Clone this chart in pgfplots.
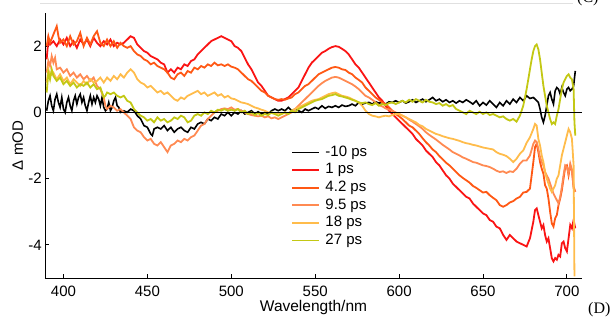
\documentclass[border=0pt]{standalone}
\usepackage{pgfplots}
\pgfplotsset{compat=1.18}
\usepackage{fontspec}
\setmainfont{Liberation Sans}
\newfontfamily\seriffont{Liberation Serif}
\definecolor{cA}{RGB}{250,20,20}
\definecolor{cB}{RGB}{255,88,20}
\definecolor{cC}{RGB}{255,138,82}
\definecolor{cD}{RGB}{255,188,75}
\definecolor{cE}{RGB}{195,200,20}
\begin{document}
\begin{tikzpicture}
\useasboundingbox (0,0) rectangle (614pt,320pt);
\draw[black!12, line width=0.8pt] (40pt,317pt) -- (573pt,317pt);
\node[font=\seriffont\fontsize{16}{18}\selectfont, anchor=base west, inner sep=0pt] at (577pt,317.5pt) {(C)};
\node[font=\seriffont\fontsize{16}{18}\selectfont, anchor=base west, inner sep=0pt] at (588pt,6pt) {(D)};
\begin{axis}[
  at={(45pt,42pt)}, anchor=south west,
  scale only axis, width=537pt, height=265pt,
  xmin=389, xmax=709, ymin=-5, ymax=3,
  axis x line*=bottom, axis y line*=left,
  axis line style={black, line width=0.8pt, -},
  xtick={400,450,...,700}, ytick={-4,-2,0,2},
  tick align=inside, major tick length=4pt,
  tick style={black, line width=0.8pt},
  /pgf/number format/assume math mode=true,
  ticklabel style={font=\fontsize{15}{18}\selectfont},
  xticklabel style={anchor=base, yshift=-19pt, inner sep=0pt},
  yticklabel style={anchor=east, inner sep=0pt, xshift=-3pt},
  every axis x label/.style={at={(axis description cs:0.5,0)}, anchor=base, yshift=-33.5pt, inner sep=0pt, font=\fontsize{15.5}{18}\selectfont},
  every axis y label/.style={at={(axis description cs:-0.041,0.5)}, anchor=base, rotate=90, inner sep=0pt, font=\fontsize{15}{18}\selectfont},
  xlabel={Wavelength/nm}, ylabel={Δ mOD},
  legend style={at={(axis cs:533.8,-0.89)}, anchor=north west, draw=none, fill=none,
    font=\fontsize{15}{17}\selectfont, row sep=0.8pt, column sep=4pt,
    nodes={inner sep=1.5pt, text height=10.8pt, text depth=3pt}},
  legend cell align=left,
  legend image code/.code={\draw[#1, line width=1.8pt] (0pt,0pt) -- (27pt,0pt);},
]
\addplot[black, line width=1.6pt] coordinates {(390,0.05) (391,0.35) (392,0.5) (393,0.2) (394,0.05) (395,0.4) (396,0.55) (397,0.3) (398,0.15) (399,0.45) (400,0.1) (401,0.0) (402,0.3) (403,0.45) (404,0.2) (405,0.05) (406,0.35) (407,0.5) (408,0.25) (409,0.45) (410,0.55) (411,0.3) (412,0.45) (413,0.2) (414,0.05) (415,0.3) (416,0.5) (417,0.25) (418,0.45) (419,0.3) (420,0.5) (421,0.4) (422,0.2) (423,0.45) (424,0.15) (425,0.05) (426,0.1) (427,0.3) (428,0.05) (429,0.15) (430,0.35) (431,0.45) (432,0.2) (433,0.15) (434,0.0) (436,0.05) (438,0.0) (440,0.1) (442,0.05) (444,-0.1) (446,-0.2) (448,-0.4) (450,-0.45) (451,-0.55) (452,-0.65) (453,-0.7) (454,-0.5) (456,-0.45) (458,-0.5) (460,-0.4) (462,-0.55) (464,-0.45) (466,-0.6) (468,-0.5) (470,-0.45) (472,-0.55) (474,-0.6) (476,-0.45) (478,-0.5) (480,-0.35) (482,-0.3) (484,-0.35) (486,-0.2) (488,-0.25) (490,-0.15) (492,-0.2) (494,-0.05) (496,-0.1) (498,0.0) (500,-0.1) (502,0.0) (504,-0.05) (506,0.05) (508,-0.05) (510,0.0) (512,0.05) (514,-0.05) (516,0.02) (518,-0.05) (520,0.0) (522,-0.05) (524,0.05) (526,0.1) (528,0.05) (530,0.1) (532,0.05) (534,0.15) (536,0.05) (538,0.1) (540,0.05) (542,0.0) (544,0.1) (546,0.05) (548,0.1) (550,0.15) (552,0.1) (554,0.2) (556,0.12) (558,0.18) (560,0.15) (562,0.2) (564,0.15) (566,0.22) (568,0.18) (570,0.2) (572,0.25) (574,0.2) (576,0.3) (578,0.25) (580,0.28) (582,0.3) (584,0.25) (586,0.32) (588,0.28) (590,0.3) (592,0.25) (594,0.32) (596,0.3) (598,0.35) (600,0.3) (602,0.35) (604,0.28) (606,0.32) (608,0.38) (610,0.3) (612,0.35) (614,0.4) (616,0.32) (618,0.38) (620,0.45) (622,0.35) (624,0.4) (626,0.32) (628,0.38) (630,0.3) (632,0.35) (634,0.28) (636,0.35) (638,0.3) (640,0.38) (642,0.32) (644,0.25) (646,0.35) (648,0.2) (650,0.3) (652,0.22) (654,0.35) (656,0.25) (658,0.15) (660,0.3) (662,0.2) (664,0.35) (666,0.25) (668,0.4) (670,0.3) (672,0.45) (674,0.35) (676,0.5) (678,0.42) (680,0.45) (682,0.35) (683,0.3) (684,0.1) (685,-0.15) (686,-0.3) (687,-0.1) (688,0.2) (689,0.5) (690,0.6) (691,0.4) (692,0.25) (693,0.65) (694,0.75) (695,0.7) (696,0.55) (697,0.75) (698,0.6) (699,0.5) (700,0.7) (701,0.75) (702,0.65) (703,0.7) (704,0.8) (705,1.25)};
\addlegendentry{-10 ps}
\addplot[cA, line width=1.8pt] coordinates {(390,1.6) (391,2.2) (392,2.05) (394,2.15) (396,2.0) (398,2.2) (400,2.05) (402,2.25) (404,2.0) (406,2.15) (408,1.95) (410,2.2) (412,2.05) (414,2.2) (416,2.0) (418,2.25) (420,2.1) (422,2.0) (424,2.15) (426,2.05) (428,2.2) (430,2.0) (432,2.1) (434,2.05) (436,2.1) (438,2.2) (440,2.3) (442,2.25) (444,2.05) (446,1.95) (448,1.85) (450,1.8) (452,1.7) (454,1.65) (456,1.6) (458,1.5) (460,1.45) (462,1.2) (464,1.3) (466,1.2) (468,1.35) (470,1.3) (472,1.45) (474,1.4) (476,1.55) (478,1.6) (480,1.75) (482,1.85) (484,1.95) (486,2.05) (488,2.15) (490,2.2) (492,2.25) (494,2.3) (496,2.25) (498,2.2) (500,2.15) (502,2.0) (504,1.95) (506,1.85) (508,1.65) (510,1.45) (512,1.3) (514,1.1) (516,0.9) (518,0.8) (520,0.65) (522,0.5) (524,0.45) (526,0.4) (528,0.35) (530,0.35) (532,0.4) (534,0.45) (536,0.55) (538,0.65) (540,0.75) (542,0.95) (544,1.15) (546,1.35) (548,1.5) (550,1.6) (552,1.7) (554,1.8) (556,1.85) (558,1.92) (560,1.97) (562,2.0) (564,1.98) (566,1.92) (568,1.85) (570,1.75) (572,1.6) (574,1.45) (576,1.35) (578,1.2) (580,1.05) (582,0.9) (584,0.75) (586,0.6) (588,0.45) (590,0.35) (592,0.2) (594,0.05) (596,-0.05) (598,-0.15) (600,-0.25) (602,-0.35) (604,-0.45) (606,-0.55) (608,-0.65) (610,-0.8) (612,-0.9) (614,-1.0) (616,-1.15) (618,-1.25) (620,-1.35) (622,-1.5) (624,-1.6) (626,-1.75) (628,-1.9) (630,-2.0) (632,-2.15) (634,-2.25) (636,-2.35) (638,-2.45) (640,-2.55) (642,-2.6) (644,-2.75) (646,-2.85) (648,-2.95) (650,-3.05) (652,-3.1) (654,-3.25) (656,-3.3) (658,-3.45) (660,-3.5) (662,-3.7) (664,-3.85) (666,-3.7) (668,-3.8) (670,-3.9) (672,-3.95) (674,-4.0) (676,-4.05) (678,-3.8) (680,-3.3) (681,-2.95) (682,-2.9) (683,-3.1) (684,-3.3) (685,-3.5) (686,-3.4) (687,-3.7) (688,-3.9) (689,-3.8) (690,-4.1) (691,-4.4) (692,-4.5) (693,-4.4) (694,-4.45) (695,-4.3) (696,-4.35) (697,-3.95) (698,-3.9) (699,-4.1) (700,-4.2) (701,-3.8) (702,-3.4) (703,-3.5) (704,-3.25) (705,-3.5)};
\addlegendentry{1 ps}
\addplot[cB, line width=1.8pt] coordinates {(390,2.0) (391,2.3) (392,2.1) (394,2.35) (396,2.6) (397,2.3) (398,2.1) (400,2.2) (402,2.0) (404,2.3) (406,2.05) (408,2.15) (410,2.4) (412,2.0) (414,2.25) (416,2.05) (418,2.3) (420,2.45) (422,2.1) (424,2.0) (426,2.2) (428,2.0) (430,2.15) (432,1.95) (434,2.1) (436,2.0) (438,1.95) (440,2.0) (442,1.85) (444,1.75) (446,1.7) (448,1.6) (450,1.55) (452,1.45) (454,1.5) (456,1.4) (458,1.35) (460,1.3) (462,1.2) (464,1.05) (466,1.0) (468,1.15) (470,1.2) (472,1.1) (474,1.25) (476,1.2) (478,1.35) (480,1.3) (482,1.4) (484,1.35) (486,1.45) (488,1.4) (490,1.5) (492,1.42) (494,1.45) (496,1.4) (498,1.45) (500,1.38) (502,1.35) (504,1.3) (506,1.2) (508,1.1) (510,1.0) (512,0.95) (514,0.85) (516,0.75) (518,0.65) (520,0.6) (522,0.5) (524,0.45) (526,0.4) (528,0.38) (530,0.4) (532,0.38) (534,0.42) (536,0.45) (538,0.55) (540,0.6) (542,0.7) (544,0.8) (546,0.85) (548,0.95) (550,1.05) (552,1.15) (554,1.2) (556,1.25) (558,1.3) (560,1.35) (562,1.37) (564,1.35) (566,1.3) (568,1.28) (570,1.2) (572,1.15) (574,1.05) (576,0.98) (578,0.9) (580,0.75) (582,0.65) (584,0.55) (586,0.45) (588,0.38) (590,0.3) (592,0.25) (594,0.15) (596,0.05) (598,-0.05) (600,-0.12) (602,-0.2) (604,-0.3) (606,-0.4) (608,-0.45) (610,-0.55) (612,-0.65) (614,-0.78) (616,-0.9) (618,-1.0) (620,-1.12) (622,-1.2) (624,-1.32) (626,-1.42) (628,-1.52) (630,-1.6) (632,-1.7) (634,-1.8) (636,-1.9) (638,-1.98) (640,-2.05) (642,-2.12) (644,-2.22) (646,-2.28) (648,-2.35) (650,-2.42) (652,-2.4) (654,-2.5) (656,-2.58) (658,-2.65) (660,-2.8) (662,-2.85) (664,-2.8) (666,-2.72) (668,-2.68) (670,-2.6) (672,-2.55) (674,-2.42) (676,-2.4) (678,-2.3) (680,-1.5) (681,-1.05) (682,-0.95) (683,-1.2) (684,-1.5) (685,-1.7) (686,-1.85) (687,-2.2) (688,-2.3) (689,-2.6) (690,-3.0) (691,-3.35) (692,-3.45) (693,-3.2) (694,-3.1) (695,-2.8) (696,-2.6) (697,-2.35) (698,-2.0) (699,-1.65) (700,-1.6) (701,-1.9) (702,-1.6) (703,-1.75) (704,-2.25) (705,-2.4)};
\addlegendentry{4.2 ps}
\addplot[cC, line width=1.8pt] coordinates {(390,1.2) (391,1.55) (392,1.4) (393,1.7) (394,1.5) (395,1.65) (396,1.3) (398,1.35) (400,1.2) (402,1.3) (404,1.1) (406,1.2) (408,1.05) (410,1.15) (412,1.0) (414,1.1) (416,0.95) (418,1.05) (420,0.8) (422,0.7) (424,0.45) (425,0.2) (426,0.1) (428,0.2) (430,0.15) (432,0.05) (434,0.1) (436,0.0) (438,-0.1) (440,-0.2) (442,-0.45) (444,-0.55) (446,-0.6) (448,-0.75) (450,-0.85) (452,-0.8) (454,-0.95) (456,-1.0) (458,-0.9) (460,-1.05) (462,-1.2) (464,-1.0) (466,-0.95) (468,-0.85) (470,-0.9) (472,-0.8) (474,-0.85) (476,-0.75) (478,-0.7) (480,-0.55) (482,-0.4) (484,-0.35) (486,-0.2) (488,-0.1) (490,0.0) (492,0.05) (494,0.1) (496,0.12) (498,0.1) (500,0.15) (502,0.08) (504,0.1) (506,0.05) (508,0.0) (510,-0.05) (512,-0.08) (514,-0.1) (516,-0.12) (518,-0.1) (520,-0.15) (522,-0.12) (524,-0.18) (526,-0.15) (528,-0.2) (530,-0.15) (532,-0.1) (534,-0.05) (536,0.0) (538,0.1) (540,0.2) (542,0.3) (544,0.4) (546,0.5) (548,0.6) (550,0.7) (552,0.8) (554,0.88) (556,0.95) (558,1.0) (560,1.05) (562,1.07) (564,1.05) (566,1.0) (568,0.95) (570,0.9) (572,0.85) (574,0.78) (576,0.7) (578,0.6) (580,0.5) (582,0.45) (584,0.38) (586,0.3) (588,0.22) (590,0.18) (592,0.12) (594,0.08) (596,0.05) (598,0.0) (600,-0.05) (602,-0.1) (604,-0.15) (606,-0.22) (608,-0.28) (610,-0.35) (612,-0.42) (614,-0.5) (616,-0.6) (618,-0.68) (620,-0.75) (622,-0.82) (624,-0.9) (626,-0.98) (628,-1.05) (630,-1.12) (632,-1.2) (634,-1.25) (636,-1.3) (638,-1.36) (640,-1.4) (642,-1.45) (644,-1.5) (646,-1.52) (648,-1.56) (650,-1.6) (652,-1.62) (654,-1.65) (656,-1.7) (658,-1.76) (660,-1.8) (662,-1.78) (664,-1.83) (666,-1.78) (668,-1.8) (670,-1.7) (672,-1.55) (674,-1.45) (676,-1.45) (678,-1.3) (680,-0.95) (681,-0.85) (682,-0.9) (683,-1.1) (684,-1.35) (685,-1.5) (686,-1.6) (687,-1.8) (688,-1.9) (689,-2.0) (690,-2.15) (691,-2.3) (692,-2.45) (693,-2.55) (694,-2.65) (695,-2.75) (696,-2.55) (697,-2.25) (698,-1.9) (699,-1.6) (700,-1.65) (701,-1.85) (702,-1.55) (703,-1.75) (704,-2.3) (705,-2.4)};
\addlegendentry{9.5 ps}
\addplot[cD, line width=1.8pt] coordinates {(390,0.9) (391,1.3) (392,1.1) (394,1.2) (396,1.0) (398,1.15) (400,0.95) (402,1.05) (404,0.85) (406,1.0) (408,0.9) (410,0.8) (412,0.95) (414,0.85) (416,1.0) (418,0.9) (420,0.95) (422,1.05) (424,0.9) (426,1.05) (428,0.95) (430,1.1) (432,1.0) (434,1.15) (436,1.05) (438,1.2) (440,1.3) (442,1.2) (444,1.0) (446,0.9) (448,0.85) (450,0.75) (452,0.8) (454,0.7) (456,0.6) (458,0.65) (460,0.55) (462,0.6) (464,0.5) (466,0.4) (468,0.35) (470,0.45) (472,0.4) (474,0.5) (476,0.55) (478,0.6) (480,0.65) (482,0.55) (484,0.6) (486,0.5) (488,0.55) (490,0.6) (492,0.5) (494,0.55) (496,0.45) (498,0.5) (500,0.42) (502,0.4) (504,0.35) (506,0.3) (508,0.28) (510,0.25) (512,0.2) (514,0.15) (516,0.12) (518,0.08) (520,0.05) (522,0.0) (524,-0.02) (526,-0.05) (528,-0.03) (530,-0.05) (532,0.0) (534,-0.03) (536,0.05) (538,0.1) (540,0.15) (542,0.2) (544,0.25) (546,0.3) (548,0.35) (550,0.38) (552,0.4) (554,0.45) (556,0.5) (558,0.55) (560,0.58) (562,0.6) (564,0.55) (566,0.5) (568,0.48) (570,0.45) (572,0.4) (574,0.35) (576,0.3) (578,0.2) (580,0.05) (582,-0.05) (584,-0.1) (586,-0.12) (588,-0.15) (590,-0.12) (592,-0.1) (594,-0.12) (596,-0.08) (598,-0.05) (600,-0.05) (602,-0.1) (604,-0.15) (606,-0.2) (608,-0.25) (610,-0.3) (612,-0.38) (614,-0.42) (616,-0.5) (618,-0.55) (620,-0.6) (622,-0.65) (624,-0.68) (626,-0.72) (628,-0.75) (630,-0.78) (632,-0.8) (634,-0.83) (636,-0.86) (638,-0.9) (640,-0.93) (642,-0.95) (644,-0.98) (646,-1.0) (648,-1.03) (650,-1.06) (652,-1.08) (654,-1.1) (656,-1.12) (658,-1.2) (660,-1.25) (662,-1.28) (664,-1.32) (666,-1.4) (668,-1.5) (670,-1.4) (672,-1.25) (674,-1.15) (676,-0.92) (678,-0.75) (680,-0.5) (681,-0.35) (682,-0.4) (683,-0.8) (684,-1.0) (685,-1.3) (686,-1.5) (687,-1.8) (688,-2.0) (689,-2.15) (690,-2.3) (691,-2.4) (692,-2.3) (693,-2.2) (694,-2.0) (695,-1.9) (696,-1.6) (697,-1.3) (698,-1.1) (699,-0.9) (700,-0.7) (701,-0.5) (702,-0.6) (703,-0.8) (704,-1.6) (704.5,-4.95)};
\addlegendentry{18 ps}
\addplot[cE, line width=1.8pt] coordinates {(390,0.6) (391,1.2) (392,1.0) (393,1.3) (394,1.1) (396,0.95) (398,1.05) (400,0.85) (402,0.95) (404,0.8) (406,0.9) (408,0.75) (410,0.85) (412,0.8) (414,0.9) (416,0.75) (418,0.85) (420,0.7) (422,0.75) (424,0.45) (425,0.5) (426,0.6) (428,0.55) (430,0.6) (432,0.5) (434,0.45) (436,0.5) (438,0.35) (440,0.3) (442,0.1) (444,0.0) (446,-0.1) (448,-0.15) (450,-0.25) (452,-0.2) (454,-0.3) (456,-0.15) (458,-0.25) (460,-0.2) (462,-0.3) (464,-0.25) (466,-0.15) (468,-0.2) (470,-0.1) (472,-0.15) (474,-0.3) (476,-0.25) (478,-0.1) (480,-0.05) (482,-0.1) (484,0.0) (486,-0.05) (488,0.05) (490,0.0) (492,0.08) (494,0.05) (496,0.1) (498,0.05) (500,0.08) (502,0.05) (504,0.1) (506,0.0) (508,0.05) (510,-0.05) (512,0.0) (514,-0.08) (516,-0.02) (518,-0.1) (520,-0.05) (522,-0.08) (524,0.0) (526,-0.05) (528,-0.1) (530,-0.05) (532,0.0) (534,-0.05) (536,0.05) (538,0.0) (540,0.1) (542,0.15) (544,0.2) (546,0.25) (548,0.3) (550,0.35) (552,0.38) (554,0.4) (556,0.45) (558,0.5) (560,0.52) (562,0.55) (564,0.5) (566,0.48) (568,0.45) (570,0.42) (572,0.38) (574,0.35) (576,0.3) (578,0.28) (580,0.3) (582,0.25) (584,0.22) (586,0.28) (588,0.2) (590,0.25) (592,0.22) (594,0.28) (596,0.3) (598,0.25) (600,0.3) (602,0.35) (604,0.3) (606,0.38) (608,0.32) (610,0.4) (612,0.35) (614,0.3) (616,0.38) (618,0.32) (620,0.3) (622,0.25) (624,0.28) (626,0.2) (628,0.25) (630,0.18) (632,0.22) (634,0.1) (636,0.05) (638,0.0) (640,-0.05) (642,0.05) (644,0.0) (646,-0.05) (648,0.02) (650,-0.05) (652,0.0) (654,-0.08) (656,-0.05) (658,-0.1) (660,-0.15) (662,-0.12) (664,-0.2) (666,-0.25) (668,-0.2) (670,-0.28) (672,-0.1) (674,0.2) (676,0.7) (677,1.0) (678,1.3) (679,1.6) (680,1.85) (681,2.0) (682,2.05) (683,1.9) (684,1.6) (685,1.2) (686,0.8) (687,0.5) (688,0.2) (689,0.0) (690,-0.2) (691,-0.35) (692,-0.3) (693,-0.35) (694,-0.1) (695,0.1) (696,0.4) (697,0.7) (698,0.9) (699,1.0) (700,1.1) (701,1.15) (702,1.05) (703,1.0) (704,0.7) (704.5,-0.3) (705,-0.7)};
\addlegendentry{27 ps}
\addplot[black, line width=0.9pt, forget plot] coordinates {(389,0) (709,0)};
\end{axis}
\end{tikzpicture}
\end{document}
